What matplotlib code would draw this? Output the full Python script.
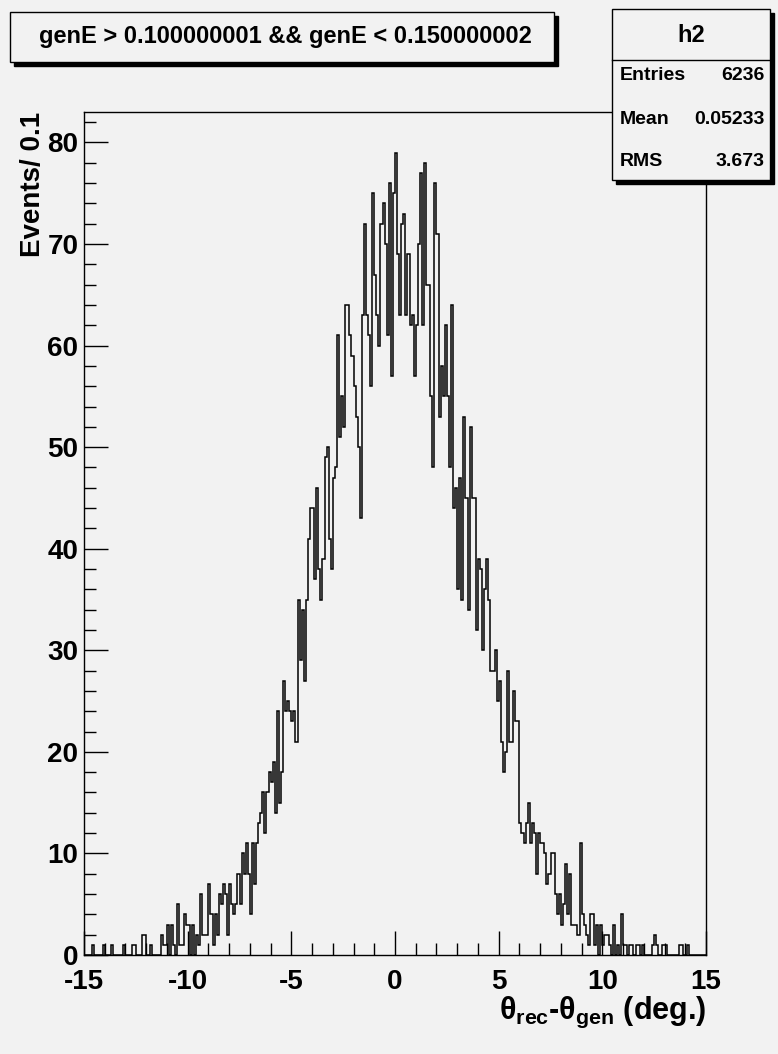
import numpy as np
import matplotlib.pyplot as plt
from matplotlib.patches import Rectangle
from matplotlib.ticker import MultipleLocator

plt.rcParams['font.family'] = ['Liberation Sans', 'DejaVu Sans']
plt.rcParams['font.weight'] = 'bold'
plt.rcParams['axes.unicode_minus'] = False
plt.rcParams['mathtext.fontset'] = 'custom'
plt.rcParams['mathtext.rm'] = 'Liberation Sans:bold'
plt.rcParams['mathtext.bf'] = 'Liberation Sans:bold'
plt.rcParams['mathtext.it'] = 'Liberation Sans:bold'
plt.rcParams['mathtext.default'] = 'rm'

W, H = 778, 1054
BG = '#f2f2f2'

# histogram h2: 300 bins from -15 to 15 (bin width 0.1)
x_lo, x_hi, n_bins = -15.0, 15.0, 300
counts = [
    0, 0, 0, 0, 1, 0, 0, 0, 0, 1,
    0, 0, 0, 1, 0, 0, 0, 0, 0, 1,
    0, 0, 0, 1, 1, 0, 0, 0, 2, 2,
    0, 0, 1, 0, 0, 0, 0, 2, 1, 1,
    3, 0, 3, 1, 0, 5, 1, 1, 4, 3,
    3, 0, 3, 0, 2, 1, 6, 2, 2, 2,
    7, 4, 1, 4, 2, 6, 5, 7, 6, 2,
    7, 5, 4, 5, 8, 5, 10, 8, 11, 8,
    4, 11, 7, 11, 13, 14, 16, 12, 16, 18,
    17, 19, 14, 24, 15, 18, 27, 24, 25, 24,
    23, 24, 21, 35, 29, 34, 27, 35, 41, 44,
    44, 37, 46, 38, 35, 39, 49, 50, 41, 38,
    47, 48, 61, 51, 55, 52, 64, 64, 61, 59,
    56, 53, 50, 43, 63, 72, 63, 61, 56, 75,
    67, 63, 60, 72, 74, 70, 61, 76, 57, 75,
    79, 69, 63, 72, 73, 63, 69, 62, 63, 57,
    62, 70, 77, 62, 78, 66, 66, 55, 48, 76,
    71, 53, 58, 55, 62, 55, 48, 64, 44, 46,
    36, 47, 35, 53, 45, 34, 52, 45, 45, 32,
    39, 38, 30, 36, 39, 35, 28, 28, 30, 25,
    27, 21, 18, 20, 28, 21, 21, 26, 23, 23,
    13, 12, 11, 13, 15, 11, 13, 12, 8, 12,
    11, 11, 10, 7, 8, 10, 10, 6, 4, 6,
    3, 5, 9, 4, 8, 3, 3, 3, 2, 11,
    4, 3, 2, 1, 4, 4, 1, 3, 0, 3,
    1, 2, 2, 1, 0, 3, 0, 1, 0, 4,
    1, 1, 0, 1, 1, 0, 1, 1, 0, 1,
    0, 0, 0, 0, 1, 2, 1, 0, 0, 1,
    1, 0, 0, 0, 0, 0, 0, 1, 1, 0,
    0, 1, 0, 0, 0, 0, 0, 0, 0, 0,
]
edges = np.linspace(x_lo, x_hi, n_bins + 1)

title = "genE > 0.100000001 && genE < 0.150000002"
stats_name = "h2"
stats_rows = [("Entries", "6236"), ("Mean", "0.05233"), ("RMS", "3.673")]


def fx(px):
    return px / W


def fy(py):
    return 1 - py / H


fig = plt.figure(figsize=(W / 100, H / 100), dpi=100, facecolor=BG)
ax = fig.add_axes([fx(84), fy(955), (706 - 84) / W, (955 - 112) / H])
ax.set_facecolor(BG)
ax.stairs(counts, edges, color='black', lw=1.1)
ax.set_xlim(x_lo, x_hi)
ax.set_ylim(0, 83)

ax.xaxis.set_major_locator(MultipleLocator(5))
ax.xaxis.set_minor_locator(MultipleLocator(1))
ax.yaxis.set_major_locator(MultipleLocator(10))
ax.yaxis.set_minor_locator(MultipleLocator(2))
ax.tick_params(which='both', direction='in', top=False, right=False,
               width=1, labelsize=20)
ax.tick_params(which='major', length=17)
ax.tick_params(which='minor', length=8.5)
ax.tick_params(axis='x', pad=10)
ax.tick_params(axis='y', pad=4)
for lab in ax.get_xticklabels() + ax.get_yticklabels():
    lab.set_fontweight('bold')
for sp in ax.spines.values():
    sp.set_linewidth(1)

fig.text(fx(706), fy(1012), 'θ$_{rec}$-θ$_{gen}$ (deg.)',
         ha='right', va='center', fontsize=22, fontweight='bold')
fig.text(fx(33), fy(112), "Events/ 0.1", rotation=90, ha='center', va='top',
         fontsize=20, fontweight='bold')


def box(x0, y0, x1, y1):
    fig.patches.append(Rectangle((fx(x0 + 4), fy(y1 + 4)), (x1 - x0) / W,
                                 (y1 - y0) / H, transform=fig.transFigure,
                                 facecolor='black', edgecolor='black', lw=1))
    fig.patches.append(Rectangle((fx(x0), fy(y1)), (x1 - x0) / W,
                                 (y1 - y0) / H, transform=fig.transFigure,
                                 facecolor=BG, edgecolor='black', lw=1))


# title box
box(10, 12, 554, 62)
fig.text(fx(285), fy(37), title, ha='center', va='center', fontsize=17,
         fontweight='bold')

# stats box
box(612, 9, 770, 180)
fig.lines.append(plt.Line2D([fx(612), fx(770)], [fy(60), fy(60)],
                            transform=fig.transFigure, color='black', lw=1))
fig.text(fx(691), fy(36), stats_name, ha='center', va='center', fontsize=17,
         fontweight='bold')
for k, (name, val) in enumerate(stats_rows):
    yy = fy(76 + 43 * k)
    fig.text(fx(620), yy, name, ha='left', va='center', fontsize=14,
             fontweight='bold')
    fig.text(fx(765), yy, val, ha='right', va='center', fontsize=14,
             fontweight='bold')

fig.savefig('out.png', dpi=100, facecolor=BG)
